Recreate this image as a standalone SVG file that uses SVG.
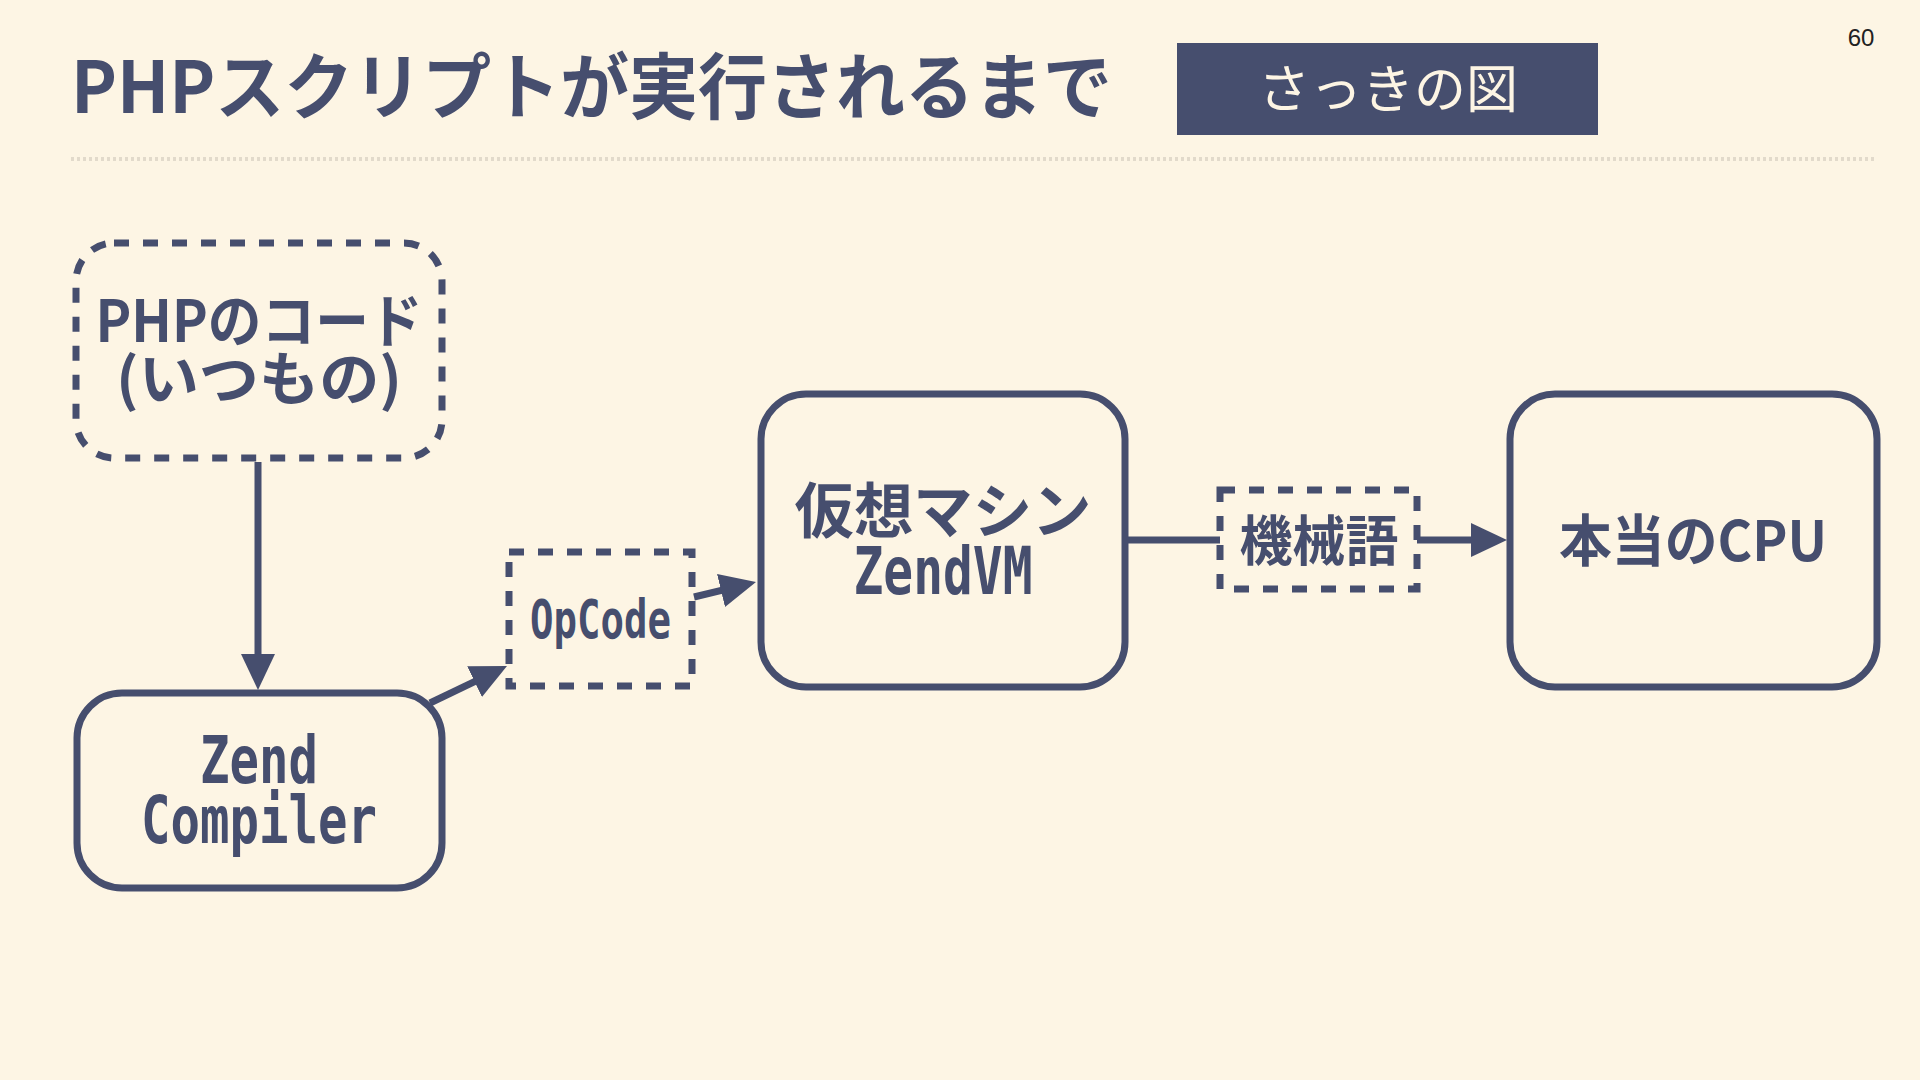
<svg xmlns="http://www.w3.org/2000/svg" width="1920" height="1080" viewBox="0 0 1920 1080">
<style>
.bg{fill:#fdf5e4}
.box{fill:none;stroke:#464e6e;stroke-width:7}
.dash{fill:none;stroke:#464e6e;stroke-width:7;stroke-dasharray:15 14}
.jp{font-family:"Noto Sans CJK JP","Noto Sans",sans-serif;font-weight:700;fill:#464e6e}
.mono{font-family:"DejaVu Sans Mono","Liberation Mono",monospace;font-weight:700;fill:#464e6e}
.conn{fill:none;stroke:#464e6e;stroke-width:7}
</style>
<defs>
<marker id="arrow" markerUnits="userSpaceOnUse" viewBox="0 0 36 34" markerWidth="36" markerHeight="34" refX="26" refY="17" orient="auto">
<path d="M0,0 L36,17 L0,34 z" fill="#464e6e"/>
</marker>
</defs>
<rect class="bg" x="0" y="0" width="1920" height="1080"/>
<g id="header">
<text class="jp" x="71" y="113" font-size="72" font-weight="900" textLength="1041" lengthAdjust="spacingAndGlyphs">PHPスクリプトが実行されるまで</text>
<rect x="1177" y="43" width="421" height="92" fill="#464e6e"/>
<text x="1388" y="108" font-size="52" text-anchor="middle" font-family="'Noto Sans CJK JP','Noto Sans',sans-serif" font-weight="400" fill="#fdf5e4">さっきの図</text>
<text x="1861" y="46" font-size="24" text-anchor="middle" font-family="'Liberation Sans',sans-serif" fill="#222">60</text>
<line x1="71" y1="159" x2="1876" y2="159" stroke="#e2dacb" stroke-width="4" stroke-dasharray="3 3"/>
</g>
<g id="connectors">
<line class="conn" x1="258" y1="462" x2="258" y2="680" marker-end="url(#arrow)"/>
<line class="conn" x1="430" y1="703" x2="498" y2="670.3" marker-end="url(#arrow)"/>
<line class="conn" x1="694" y1="597" x2="746.3" y2="584.4" marker-end="url(#arrow)"/>
<line class="conn" x1="1125" y1="540" x2="1220" y2="540"/>
<line class="conn" x1="1417" y1="540" x2="1497" y2="540" marker-end="url(#arrow)"/>
</g>
<g id="php-code">
<rect class="dash" x="76" y="243" width="366" height="215" rx="38"/>
<text class="jp" x="259" y="342" font-size="58" text-anchor="middle" textLength="327" lengthAdjust="spacingAndGlyphs">PHPのコード</text>
<text class="jp" x="259" y="400" font-size="58" text-anchor="middle" textLength="286" lengthAdjust="spacingAndGlyphs">(いつもの)</text>
</g>
<g id="zend-compiler">
<rect class="box" x="77" y="693" width="365" height="195" rx="45"/>
<text class="mono" x="259" y="783" font-size="66" text-anchor="middle" textLength="118" lengthAdjust="spacingAndGlyphs">Zend</text>
<text class="mono" x="259" y="843" font-size="66" text-anchor="middle" textLength="236" lengthAdjust="spacingAndGlyphs">Compiler</text>
</g>
<g id="opcode">
<rect class="dash" x="509" y="552" width="183" height="134"/>
<text class="mono" x="600.5" y="638" font-size="54" text-anchor="middle" textLength="141" lengthAdjust="spacingAndGlyphs">OpCode</text>
</g>
<g id="zend-vm">
<rect class="box" x="761" y="394" width="364" height="293" rx="45"/>
<text class="jp" x="943" y="533" font-size="60" text-anchor="middle" textLength="297" lengthAdjust="spacingAndGlyphs">仮想マシン</text>
<text class="mono" x="943" y="594" font-size="66" text-anchor="middle" textLength="179" lengthAdjust="spacingAndGlyphs">ZendVM</text>
</g>
<g id="machine-code">
<rect class="dash" x="1220" y="490" width="197" height="99"/>
<text class="jp" x="1319" y="561" font-size="54" text-anchor="middle" textLength="159" lengthAdjust="spacingAndGlyphs">機械語</text>
</g>
<g id="real-cpu">
<rect class="box" x="1510" y="394" width="367" height="293" rx="45"/>
<text class="jp" x="1693" y="561" font-size="56" text-anchor="middle" textLength="268" lengthAdjust="spacingAndGlyphs">本当のCPU</text>
</g>
</svg>
